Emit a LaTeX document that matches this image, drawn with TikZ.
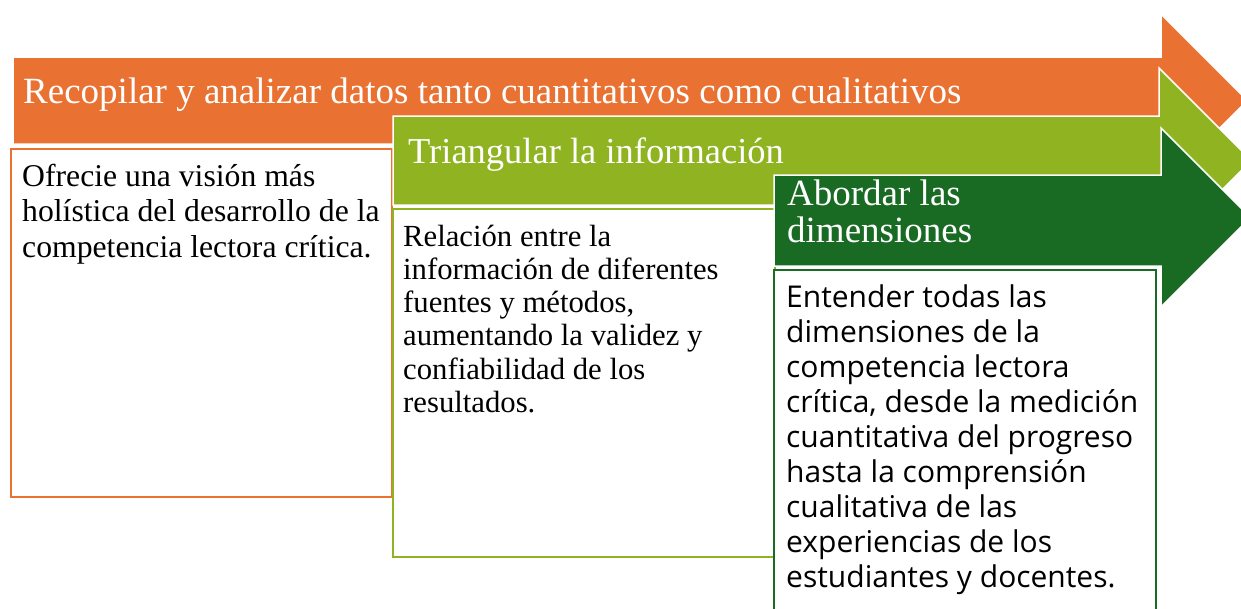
\documentclass[tikz,border=0pt]{standalone}
\usepackage{fontspec}
\setmainfont{Liberation Serif}
\newfontfamily\aptosfont[Ligatures=NoCommon]{Open Sans}
\definecolor{orng}{HTML}{E97132}
\definecolor{lgrn}{HTML}{8FB321}
\definecolor{dgrn}{HTML}{196B24}
\newcommand\hstr{\rule{0pt}{1em}}
\begin{document}
\begin{tikzpicture}[x=1pt,y=-1pt,
  arrowsh/.style={draw=white,line width=1.5pt,line join=miter},
  boxsh/.style={fill=white,line width=2pt},
  hdr/.style={anchor=north west,inner sep=0pt,align=left,text=white,font=\fontsize{37}{37}\selectfont},
  txt/.style={anchor=north west,inner sep=0pt,align=left,text=black},
]
\useasboundingbox (0,0) rectangle (1241,608);
\clip (0,0) rectangle (1241,608);

% orange stage
\path[arrowsh,fill=orng] (13,57) -- (1161,57) -- (1161,14) -- (1247.5,100.5) -- (1161,187) -- (1161,144) -- (13,144) -- cycle;
\draw[boxsh,draw=orng] (11,149) rectangle (392,497);
\node[hdr] (hA) at (23,66) {\hstr Recopilar y analizar datos tanto cuantitativos como cualitativos};
\node[txt,font=\fontsize{31.7}{35.5}\selectfont] (bA) at (22,154.3)
  {\hstr Ofrecie una visión más\\holística del desarrollo de la\\competencia lectora crítica.};

% light green stage
\path[arrowsh,fill=lgrn] (393,116) -- (1159,116) -- (1159,68) -- (1251.5,160.5) -- (1159,253) -- (1159,205) -- (393,205) -- cycle;
\draw[boxsh,draw=lgrn] (393,209) rectangle (775,557);
\node[hdr,font=\fontsize{36.5}{37}\selectfont] (hB) at (408,126.5) {\hstr Triangular la información};
\node[txt,font=\fontsize{30.7}{33.2}\selectfont] (bB) at (403,215.3)
  {\hstr Relación entre la\\información de diferentes\\fuentes y métodos,\\aumentando la validez y\\confiabilidad de los\\resultados.};

% dark green stage
\path[arrowsh,fill=dgrn] (774,175) -- (1161,175) -- (1161,128) -- (1250.5,217.5) -- (1161,307) -- (1161,266) -- (774,266) -- cycle;
\draw[boxsh,draw=dgrn] (774,270) rectangle (1156,620);
\node[hdr] (hC) at (787,168) {\hstr Abordar las\\dimensiones};
\node[txt,font=\aptosfont\fontsize{30}{35}\selectfont] (bC) at (786,277)
  {\hstr Entender todas las\\dimensiones de la\\competencia lectora\\crítica, desde la medición\\cuantitativa del progreso\\hasta la comprensión\\cualitativa de las\\experiencias de los\\estudiantes y docentes.};
\end{tikzpicture}
\end{document}
